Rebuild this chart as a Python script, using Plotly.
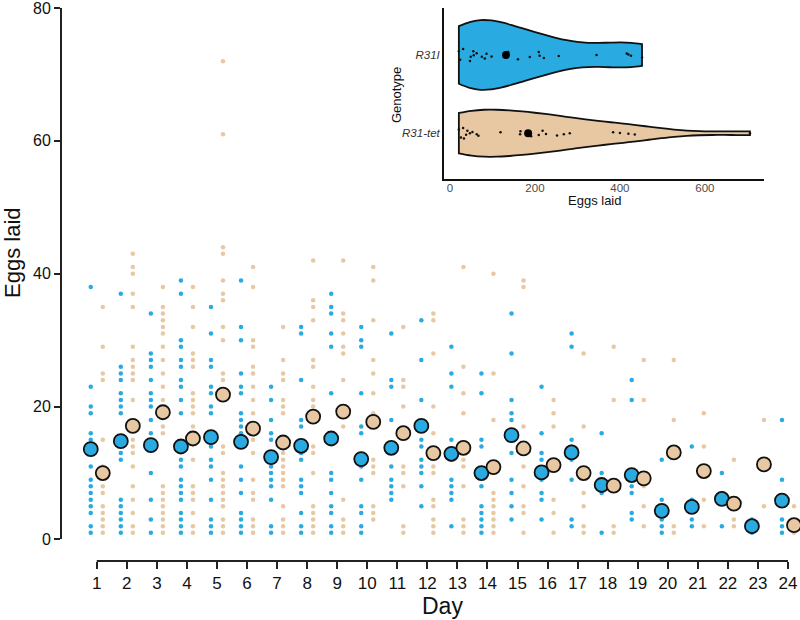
import plotly.graph_objects as go

# ---------------- data ----------------
days = list(range(1, 25))

# per-day eggs laid by individual flies (distinct visible values), genotype R31I
r31i_eggs = [
    [38, 23, 20, 19, 16, 15, 11, 9, 8, 7, 6, 5, 4, 2, 1],
    [37, 26, 25, 24, 22, 21, 20, 19, 13, 12, 6, 5, 4, 3, 2, 1],
    [34, 28, 27, 26, 24, 22, 21, 20, 18, 16, 10, 6, 3, 1],
    [39, 37, 30, 29, 27, 26, 24, 23, 21, 19, 12, 11, 9, 8, 7, 6, 4, 3, 2, 1],
    [35, 31, 27, 26, 23, 22, 20, 19, 14, 12, 11, 9, 6, 3, 2, 1],
    [39, 32, 30, 25, 23, 22, 19, 18, 17, 16, 14, 11, 9, 7, 4, 3, 2, 1],
    [23, 21, 18, 16, 15, 11, 10, 9, 8, 6, 2, 1],
    [32, 31, 24, 18, 17, 13, 12, 9, 8, 7, 4, 2, 1],
    [37, 35, 34, 31, 29, 22, 10, 9, 7, 5, 4, 2, 1],
    [32, 30, 29, 22, 17, 16, 11, 9, 5, 4, 2, 1],
    [31, 24, 23, 18, 11, 9, 8, 7, 6],
    [33, 27, 21, 15, 14, 12, 11, 10, 8, 5],
    [29, 25, 23, 15, 12, 9, 8, 7, 6, 2],
    [25, 22, 15, 14, 8, 5, 4, 3, 2, 1],
    [34, 28, 21, 19, 18, 13, 9, 7, 5, 3],
    [23, 16, 13, 12, 9, 7, 6, 3],
    [31, 29, 15, 14, 12, 9, 3, 2],
    [16, 10, 7, 1],
    [24, 21, 8, 7, 4, 3],
    [12, 6, 3, 2, 1],
    [14, 6, 3, 2],
    [10, 7, 2],
    [3, 1],
    [18, 9, 3, 2, 1],
]

# genotype R31-tet
tet_eggs = [
    [35, 29, 25, 24, 15, 11, 8, 7, 5, 4, 3, 2, 1],
    [43, 41, 40, 37, 35, 29, 27, 26, 25, 24, 21, 15, 14, 13, 11, 8, 6, 4, 2, 1],
    [38, 35, 34, 33, 32, 31, 29, 27, 25, 23, 21, 17, 16, 8, 7, 6, 5, 4, 3, 2, 1],
    [38, 35, 32, 28, 27, 26, 22, 21, 20, 19, 17, 12, 8, 7, 6, 4, 2, 1],
    [72, 61, 44, 43, 39, 37, 36, 32, 30, 25, 24, 14, 13, 10, 9, 8, 7, 6, 5, 3, 2, 1],
    [41, 38, 30, 29, 26, 25, 23, 21, 19, 15, 13, 9, 7, 6, 3, 2, 1],
    [32, 27, 25, 24, 21, 20, 19, 13, 12, 11, 10, 9, 8, 5, 3, 2, 1],
    [42, 36, 35, 33, 27, 26, 23, 21, 20, 14, 13, 10, 5, 4, 3, 2, 1],
    [42, 34, 33, 31, 29, 28, 24, 17, 6, 3, 2, 1],
    [41, 39, 33, 27, 25, 22, 19, 12, 11, 10, 5, 4, 3],
    [32, 24, 23, 20, 11, 10, 8, 2, 1],
    [34, 33, 28, 20, 16, 11, 10, 6, 5, 3, 2, 1],
    [41, 26, 22, 19, 12, 11, 8, 3, 2, 1],
    [40, 25, 18, 10, 7, 6, 5, 4, 3, 2, 1],
    [39, 38, 17, 11, 8, 5, 4, 1],
    [21, 19, 17, 6, 4, 1],
    [28, 17, 7, 5, 2, 1],
    [29, 21, 2, 1],
    [27, 21, 8, 5, 2],
    [27, 18, 2, 1],
    [19, 14, 6, 2],
    [12, 3, 2],
    [18, 5],
    [5, 1],
]

# daily means
r31i_means = [13.6, 14.8, 14.2, 14.0, 15.4, 14.7, 12.4, 14.1, 15.2, 12.1, 13.8, 17.1,
              12.9, 10.0, 15.7, 10.1, 13.1, 8.2, 9.7, 4.3, 4.9, 6.1, 2.0, 5.85]
tet_means = [10.0, 17.1, 19.15, 15.2, 21.8, 16.7, 14.6, 18.5, 19.25, 17.7, 16.0, 13.0,
             13.8, 10.9, 13.7, 11.2, 10.0, 8.1, 9.2, 13.1, 10.3, 5.4, 11.3, 2.15]

# inset: total eggs laid per fly
genotypes = ["R31I", "R31-tet"]
r31i_total = [21, 24, 31, 47, 49, 55, 56, 63, 75, 82, 86, 98, 137, 160, 188, 209, 211,
              221, 256, 345, 416, 420, 426, 452]
tet_total = [21, 26, 31, 33, 38, 41, 47, 53, 63, 67, 119, 165, 166, 191, 209, 218,
             226, 252, 268, 282, 384, 400, 420, 435, 706]
total_means = [132, 184]
x_ticks_main = list(range(1, 25))
y_ticks_main = [0, 20, 40, 60, 80]
x_ticks_inset = [0, 200, 400, 600]

# ---------------- style ----------------
BLUE = "#29ABE2"
TAN = "#E8C8A2"
FONT = "Liberation Sans, Arial, sans-serif"
DODGE = 0.2

def flatten(groups, offset):
    xs, ys = [], []
    for d, vals in zip(days, groups):
        xs += [d + offset] * len(vals)
        ys += vals
    return xs, ys

bx, by = flatten(r31i_eggs, -DODGE)
tx, ty = flatten(tet_eggs, DODGE)

fig = go.Figure()
fig.add_trace(go.Scatter(x=bx, y=by, mode="markers",
                         marker=dict(size=4.5, color=BLUE), showlegend=False))
fig.add_trace(go.Scatter(x=tx, y=ty, mode="markers",
                         marker=dict(size=4.5, color=TAN), showlegend=False))
fig.add_trace(go.Scatter(x=[d - DODGE for d in days], y=r31i_means, mode="markers",
                         marker=dict(size=14, color=BLUE, line=dict(color="#111", width=1.8)),
                         showlegend=False))
fig.add_trace(go.Scatter(x=[d + DODGE for d in days], y=tet_means, mode="markers",
                         marker=dict(size=14, color=TAN, line=dict(color="#111", width=1.8)),
                         showlegend=False))

# inset violins
fig.add_trace(go.Violin(x=r31i_total, y=[genotypes[0]] * len(r31i_total), orientation="h",
                        xaxis="x2", yaxis="y2", fillcolor=BLUE, opacity=1,
                        line=dict(color="#111", width=1.8), spanmode="hard",
                        scalemode="width", scalegroup="a", width=0.89,
                        points="all", pointpos=0, jitter=0.22,
                        marker=dict(size=2.5, color="#111"),
                        box=dict(visible=False), meanline=dict(visible=False),
                        showlegend=False, hoveron="violins"))
fig.add_trace(go.Violin(x=tet_total, y=[genotypes[1]] * len(tet_total), orientation="h",
                        xaxis="x2", yaxis="y2", fillcolor=TAN, opacity=1,
                        line=dict(color="#111", width=1.8), spanmode="hard",
                        scalemode="width", scalegroup="b", width=0.6,
                        points="all", pointpos=0, jitter=0.3,
                        marker=dict(size=2.5, color="#111"),
                        box=dict(visible=False), meanline=dict(visible=False),
                        showlegend=False, hoveron="violins"))
fig.add_trace(go.Scatter(x=total_means, y=genotypes, mode="markers", xaxis="x2", yaxis="y2",
                         marker=dict(size=8, color="#000"), showlegend=False))

fig.update_layout(
    width=800, height=620,
    margin=dict(l=62, r=0, t=8, b=59),
    paper_bgcolor="white", plot_bgcolor="rgba(0,0,0,0)",
    font=dict(family=FONT, color="#111"),
    xaxis=dict(range=[-0.157, 24.4], domain=[0, 1], anchor="free", position=0,
               showline=False, showgrid=False, zeroline=False,
               tickmode="array", tickvals=x_ticks_main, ticks="outside",
               ticklen=7, tickwidth=2, tickcolor="#222", ticklabeloverflow="allow",
               tickfont=dict(size=17, color="#111")),
    yaxis=dict(range=[0, 80], domain=[0.0389, 1], showline=True, linewidth=2,
               linecolor="#222", showgrid=False, zeroline=False,
               tickmode="array", tickvals=y_ticks_main, ticks="outside",
               ticklen=6, tickwidth=2, tickcolor="#222", ticklabeloverflow="allow",
               tickfont=dict(size=16, color="#111")),
    xaxis2=dict(domain=[0.5176, 0.9512], anchor="y2", range=[-14, 739],
                showline=True, linewidth=1.8, linecolor="#111", showgrid=False,
                zeroline=False, ticks="", tickvals=x_ticks_inset, ticklabelstandoff=-3,
                tickfont=dict(size=11.5, color="#4d4d4d")),
    yaxis2=dict(domain=[0.6908, 1], anchor="x2", type="category",
                categoryorder="array", categoryarray=["R31-tet", "R31I"],
                range=[-0.585, 1.6], showline=True, linewidth=1.8, linecolor="#111",
                showgrid=False, zeroline=False, ticks="",
                tickfont=dict(size=11.5, color="#333", style="italic")),
    shapes=[dict(type="line", xref="x", yref="paper", x0=1, x1=24, y0=0, y1=0,
                 line=dict(color="#222", width=2))],
    annotations=[
        dict(text="Day", xref="x", yref="paper", x=12.5, y=-0.081, showarrow=False,
             xanchor="center", yanchor="middle", font=dict(size=23, color="#111")),
        dict(text="Eggs laid", xref="paper", yref="paper", x=-0.0664, y=0.5588,
             textangle=-90, showarrow=False, xanchor="center", yanchor="middle",
             font=dict(size=22, color="#111")),
        dict(text="Genotype", xref="paper", yref="paper", x=0.454, y=0.8427,
             textangle=-90, showarrow=False, xanchor="center", yanchor="middle",
             font=dict(size=13, color="#111")),
        dict(text="Eggs laid", xref="paper", yref="paper", x=0.7222, y=0.652,
             showarrow=False, xanchor="center", yanchor="middle",
             font=dict(size=13, color="#111")),
    ],
)

fig.write_html("out.html", config={"displayModeBar": False},
               post_script="document.body.style.margin='0px';document.body.style.padding='0px';")
